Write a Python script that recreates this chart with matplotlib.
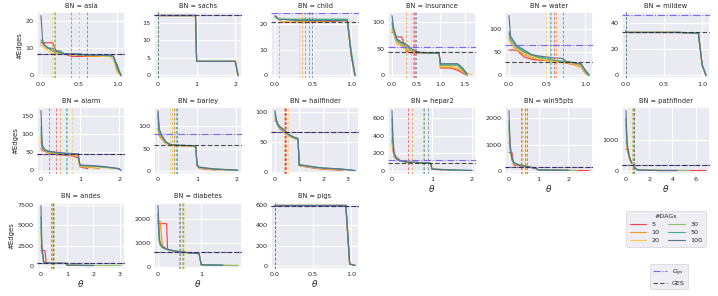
import numpy as np
import matplotlib
matplotlib.use('Agg')
import matplotlib.pyplot as plt
import seaborn as sns
from matplotlib.lines import Line2D

sns.set_theme(style='darkgrid')
plt.rcParams['font.family'] = ['DejaVu Sans']

N_DAGS = [5, 10, 20, 30, 50, 100]
COLORS = ['#F94144', '#F8961E', '#F9C74F', '#90BE6D', '#43AA8B', '#577590']

# ---------------- data (order of curve lists: 5, 10, 20, 30, 50, 100 DAGs) -------------
ASIA_T = [0, 0.02, 0.05, 0.1, 0.15, 0.2, 0.25, 0.3, 0.4, 0.5, 0.6, 0.7, 0.8, 0.9, 0.95, 1.0, 1.05]
ASIA_E = [
    [12, 12, 12, 12, 12, 9, 8, 8, 7, 7, 7, 7, 7, 7, 7, 3, 0],
    [11, 11, 10, 10, 9, 8, 8, 8, 7.5, 7.5, 7, 7, 7, 7, 7, 2, 0],
    [12, 11, 10, 9, 8, 8, 8, 8, 7.5, 7.5, 7.5, 7.5, 7, 7, 6, 1, 0],
    [12, 12, 11, 10, 9, 8.5, 8, 8, 8, 7.5, 7.5, 7.5, 7.5, 7, 7, 2, 0],
    [13, 12, 11, 10, 9, 9, 8.5, 8, 8, 7.5, 7.5, 7.5, 7.5, 7.5, 7, 4, 0],
    [22, 13, 11, 10, 10, 9, 9, 8, 8, 8, 7.5, 7.5, 7.5, 7.5, 7, 3, 0],
]
ASIA_V = [0.4, 0.5, 0.15, 0.17, 0.18, 0.6]
ASIA_REF = [8, 8]

SACHS_T = [0, 0.97, 1.0, 2.0, 2.07]
SACHS_E = [[17, 17, 4, 4, 0]] * 6
SACHS_V = [0, 0, 0, 0, 0, 0]
SACHS_REF = [17, 17]

CHILD_T = [0, 0.05, 0.1, 0.3, 0.5, 0.7, 0.9, 0.95, 1.0, 1.05]
CHILD_E = [
    [23, 22, 21, 21, 21, 21, 21.5, 21.5, 8, 0],
    [23, 22, 21, 21, 21, 21.5, 21.5, 21.5, 8, 0],
    [23, 22, 21, 21, 21.5, 21.5, 21.5, 21.5, 8, 0],
    [23, 22, 22, 22, 22, 22, 22, 22, 10, 0],
    [23, 22, 22, 22, 22, 22, 22, 22, 9, 0],
    [23.5, 22, 22, 21.5, 21.5, 21.5, 21.5, 21.5, 8, 0],
]
CHILD_V = [0.44, 0.35, 0.32, 0.056, 0.40, 0.48]
CHILD_REF = [24.5, 21]

INS_T = [0, 0.03, 0.1, 0.2, 0.3, 0.4, 0.5, 0.6, 0.8, 0.97, 1.0, 1.2, 1.35, 1.45, 1.55, 1.65]
INS_E = [
    [80, 80, 72, 72, 45, 42, 42, 42, 42, 42, 14, 14, 10, 5, 0, None],
    [85, 78, 60, 55, 48, 45, 43, 42, 42, 42, 15, 15, 12, 8, 0, None],
    [88, 80, 62, 57, 50, 46, 43, 42, 42, 42, 17, 17, 15, 10, 5, 1],
    [95, 82, 64, 58, 52, 47, 44, 42, 42, 42, 19, 19, 19, 10, 0, None],
    [100, 85, 66, 60, 56, 48, 44, 43, 42, 42, 20, 20, 20, 12, 1, None],
    [112, 90, 68, 62, 58, 50, 45, 43, 42, 42, 22, 22, 22, 15, 3, None],
]
INS_V = [0.45, 0.28, 0.40, 0.43, 0.47, 0.50]
INS_REF = [53, 44]

WATER_T = [0, 0.02, 0.1, 0.2, 0.3, 0.4, 0.5, 0.6, 0.7, 0.75, 0.85, 0.95, 1.0, 1.05]
WATER_E = [
    [55, 55, 55, 40, 35, 33, 32, 30, 29, 27, 24, 18, 5, 0],
    [80, 70, 55, 45, 38, 35, 32, 30, 29, 27, 24, 18, 5, 0],
    [85, 72, 58, 48, 40, 36, 33, 30, 29, 28, 26, 20, 6, 0],
    [90, 75, 60, 50, 43, 38, 35, 32, 30, 29, 27, 22, 8, 0],
    [95, 80, 62, 52, 45, 40, 37, 33, 31, 30, 28, 24, 10, 0],
    [130, 85, 65, 55, 45, 42, 40, 38, 37, 30, 28, 25, 12, 2],
]
WATER_V = [0.59, 0.62, 0.49, 0.55, 0.535, 0.71]
WATER_REF = [65, 30]

MILDEW_T = [0, 0.02, 0.7, 0.95, 1.0, 1.05]
MILDEW_E = [[34, 33, 33, 32.5, 8, 0]] * 6
MILDEW_V = [0, 0, 0, 0, 0, 0]
MILDEW_REF = [46, 33]

ALARM_T = [0, 0.03, 0.1, 0.2, 0.4, 0.6, 0.8, 0.95, 1.0, 1.2, 1.5, 1.8, 2.0, 2.05]
ALARM_E = [
    [60, 55, 52, 48, 44, 42, 40, 35, 10, 5, None, None, None, None],
    [80, 58, 53, 49, 46, 44, 42, 38, 10, 9, 5, None, None, None],
    [90, 60, 54, 50, 47, 45, 44, 40, 12, 11, 9, 6, None, None],
    [100, 62, 55, 51, 48, 46, 45, 44, 13, 12, 10, 7, 4, None],
    [120, 65, 55, 52, 49, 47, 46, 45, 14, 13, 11, 8, 5, 0],
    [165, 70, 57, 53, 50, 48, 47, 46, 15, 14, 12, 8, 5, 0],
]
ALARM_V = [0.38, 0.48, 0.80, 0.67, 0.63, 0.21]
ALARM_REF = [46, 46]

BARLEY_T = [0, 0.03, 0.1, 0.2, 0.3, 0.5, 0.9, 0.97, 1.0, 1.05, 1.2, 1.5, 2.0, 2.05]
BARLEY_E = [
    [95, 80, 72, 62, 58, 57, 56, 54, 12, 7, 5, 3, None, None],
    [105, 80, 72, 62, 58, 57, 56, 54, 12, 8, 6, 4, 2, None],
    [110, 85, 75, 62, 59, 57, 56, 54, 12, 8, 6, 4, 2, None],
    [120, 85, 76, 64, 60, 58, 57, 55, 13, 9, 7, 5, 3, 2],
    [130, 90, 80, 66, 60, 58, 57, 55, 14, 9, 7, 5, 3, 2],
    [135, 95, 78, 65, 60, 58, 57, 55, 15, 10, 8, 5, 3, 2],
]
BARLEY_V = [0.42, 0.41, 0.30, 0.36, 0.47, 0.49]
BARLEY_REF = [84, 58]

HAIL_T = [0, 0.05, 0.1, 0.2, 0.4, 0.6, 0.8, 0.95, 1.0, 1.3, 1.6, 2.0, 2.5, 2.8, 3.1, 3.3]
HAIL_E = [
    [85, 88, 78, 72, 66, 60, 56, 54, 10, 8, 6, 4, 3, 2, None, None],
    [88, 86, 80, 74, 66, 60, 56, 54, 10, 9, 7, 5, 4, 3, None, None],
    [90, 84, 80, 74, 66, 60, 56, 54, 10, 9, 7, 5, 4, 3, None, None],
    [95, 85, 80, 74, 67, 60, 57, 55, 11, 9, 7, 6, 5, 4, 3, None],
    [100, 86, 80, 75, 68, 61, 57, 55, 11, 10, 8, 6, 5, 4, 3, 2],
    [103, 88, 82, 76, 70, 62, 58, 56, 12, 10, 8, 6, 5, 4, 3, 2],
]
HAIL_V = [0.46, 0.37, 0.55, 0.40, 0.42, 0.41]
HAIL_REF = [67, 67]

HEPAR_T = [0, 0.02, 0.05, 0.1, 0.2, 0.4, 0.7, 0.9, 0.97, 1.0, 1.3, 1.6, 2.0]
HEPAR_E = [
    [350, 250, 160, 160, 120, 100, 95, 90, 85, 18, 12, None, None],
    [400, 280, 170, 150, 120, 100, 95, 90, 85, 20, 14, 8, None],
    [450, 300, 180, 135, 110, 100, 95, 90, 85, 20, 14, 8, None],
    [500, 320, 190, 140, 115, 100, 95, 90, 85, 20, 15, 10, None],
    [600, 350, 200, 140, 115, 100, 95, 90, 85, 20, 15, 10, 5],
    [690, 400, 220, 150, 120, 100, 95, 90, 85, 20, 15, 10, 5],
]
HEPAR_V = [0.41, 0.51, 0.79, 0.78, 0.81, 0.89]
HEPAR_REF = [120, 90]

WIN_T = [0, 0.02, 0.05, 0.1, 0.15, 0.2, 0.3, 0.5, 0.7, 0.9, 1.0, 1.5, 2.0, 2.3, 2.7]
WIN_E = [
    [700, 700, 700, 700, 250, 200, 200, 180, 150, 100, 40, 30, 25, 20, 20],
    [1100, 900, 700, 450, 300, 250, 220, 190, 150, 100, 40, 30, 25, None, None],
    [1500, 1100, 700, 400, 300, 260, 230, 190, 150, 100, 40, 30, 25, None, None],
    [1700, 1200, 750, 420, 320, 270, 230, 190, 150, 100, 40, 30, 25, 20, None],
    [1900, 1300, 800, 450, 330, 280, 240, 190, 150, 100, 40, 30, 25, None, None],
    [2300, 1500, 900, 500, 350, 300, 250, 200, 150, 100, 40, 30, 25, None, None],
]
WIN_V = [0.40, 0.45, 0.58, 0.53, 0.55, 0.62]
WIN_REF = [160, 160]

PATH_T = [0, 0.05, 0.1, 0.2, 0.3, 0.4, 0.6, 0.8, 1.0, 2.0, 3.0, 4.4, 5.5, 6.9]
PATH_E = [
    [700, 700, 700, 700, 400, 320, 200, 100, 30, 25, 20, 20, 20, 20],
    [1000, 900, 700, 550, 420, 320, 200, 100, 30, 25, 20, None, None, None],
    [1300, 1000, 750, 550, 420, 330, 200, 100, 30, 25, 20, None, None, None],
    [1500, 1100, 800, 560, 430, 330, 200, 100, 30, 25, 20, 20, 20, None],
    [1700, 1200, 850, 580, 440, 340, 200, 100, 30, 25, 20, 20, None, None],
    [1950, 1300, 900, 600, 450, 350, 200, 100, 30, 25, 20, 20, None, None],
]
PATH_V = [0.60, 0.48, 0.55, 0.65, 0.70, 0.72]
PATH_REF = [195, 195]

ANDES_T = [0, 0.03, 0.1, 0.15, 0.2, 0.5, 0.97, 1.0, 1.5, 2.0, 2.5, 3.05]
ANDES_E = [
    [1900, 1900, 1900, 1900, 400, 350, 330, 100, 90, None, None, None],
    [2500, 1900, 600, 450, 400, 350, 330, 100, 90, None, None, None],
    [4000, 1900, 500, 450, 400, 350, 330, 100, 90, 80, None, None],
    [5000, 2000, 500, 450, 400, 350, 330, 100, 90, 80, 80, 80],
    [6000, 2200, 500, 450, 400, 350, 330, 100, 90, 80, None, None],
    [7400, 2500, 500, 450, 400, 350, 330, 100, 90, 80, None, None],
]
ANDES_V = [0.38, 0.42, 0.45, 0.51, 0.47, 0.44]
ANDES_REF = [330, 330]

DIAB_T = [0, 0.03, 0.05, 0.1, 0.2, 0.22, 0.3, 0.5, 0.7, 0.95, 1.0, 1.3, 1.5, 1.85]
DIAB_E = [
    [1800, 1800, 1800, 1800, 1800, 750, 700, 630, 600, 560, 100, 90, None, None],
    [1900, 1900, 1900, 900, 750, 730, 690, 630, 600, 560, 100, 90, None, None],
    [1900, 1500, 1000, 850, 740, 730, 690, 630, 600, 560, 100, 90, 80, 70],
    [2000, 1000, 900, 800, 730, 720, 690, 640, 600, 560, 100, 90, 80, 70],
    [2200, 1100, 950, 820, 740, 730, 700, 640, 600, 560, 100, 90, 80, None],
    [2550, 1200, 1000, 850, 750, 740, 700, 640, 600, 560, 100, 90, 80, None],
]
DIAB_V = [0.58, 0.58, 0.60, 0.56, 0.49, 0.51]
DIAB_REF = [610, 610]

PIGS_T = [0, 0.93, 0.98, 1.05]
PIGS_E = [[592, 592, 20, 5]] * 6
PIGS_V = [0, 0, 0, 0, 0, 0]
PIGS_REF = [592, 592]

PANELS = [
    ('asia', ASIA_T, ASIA_E, ASIA_V, ASIA_REF, [0.0, 0.5, 1.0], [0, 10, 20]),
    ('sachs', SACHS_T, SACHS_E, SACHS_V, SACHS_REF, [0, 1, 2], [0, 5, 10, 15]),
    ('child', CHILD_T, CHILD_E, CHILD_V, CHILD_REF, [0.0, 0.5, 1.0], [0, 10, 20]),
    ('insurance', INS_T, INS_E, INS_V, INS_REF, [0.0, 0.5, 1.0, 1.5], [0, 50, 100]),
    ('water', WATER_T, WATER_E, WATER_V, WATER_REF, [0.0, 0.5, 1.0], [0, 50, 100]),
    ('mildew', MILDEW_T, MILDEW_E, MILDEW_V, MILDEW_REF, [0.0, 0.5, 1.0], [0, 20, 40]),
    ('alarm', ALARM_T, ALARM_E, ALARM_V, ALARM_REF, [0, 1, 2], [0, 50, 100, 150]),
    ('barley', BARLEY_T, BARLEY_E, BARLEY_V, BARLEY_REF, [0, 1, 2], [0, 50, 100]),
    ('hailfinder', HAIL_T, HAIL_E, HAIL_V, HAIL_REF, [0, 1, 2, 3], [0, 50, 100]),
    ('hepar2', HEPAR_T, HEPAR_E, HEPAR_V, HEPAR_REF, [0, 1, 2], [0, 200, 400, 600]),
    ('win95pts', WIN_T, WIN_E, WIN_V, WIN_REF, [0, 1, 2], [0, 1000, 2000]),
    ('pathfinder', PATH_T, PATH_E, PATH_V, PATH_REF, [0, 2, 4, 6], [0, 1000]),
    ('andes', ANDES_T, ANDES_E, ANDES_V, ANDES_REF, [0, 1, 2, 3], [0, 2500, 5000, 7500]),
    ('diabetes', DIAB_T, DIAB_E, DIAB_V, DIAB_REF, [0, 1], [0, 1000, 2000]),
    ('pigs', PIGS_T, PIGS_E, PIGS_V, PIGS_REF, [0.0, 0.5, 1.0], [0, 200, 400, 600]),
]
XLABEL_PANELS = {'hepar2', 'win95pts', 'pathfinder', 'andes', 'diabetes', 'pigs'}

# ---------------- figure ----------------
W, H = 718, 296
fig = plt.figure(figsize=(W / 100, H / 100), dpi=100)
AX_W, AX_H = 88, 66
LEFTS = [37 + 117 * i for i in range(6)]
TOPS = [12.5, 107.5, 202.5]

FS = 4.6
GGS_COLOR = '#7B68EE'

for idx, (name, T, E, V, REF, xt, yt) in enumerate(PANELS):
    r, c = divmod(idx, 6)
    l, t = LEFTS[c], TOPS[r]
    ax = fig.add_axes([l / W, 1 - (t + AX_H) / H, AX_W / W, AX_H / H])
    T = np.asarray(T, dtype=float)
    for k, n in enumerate(N_DAGS):
        y = np.asarray(E[k], dtype=float)
        ax.plot(T, y, color=COLORS[k], lw=0.85, zorder=2 + k * 0.01)
    for k, n in enumerate(N_DAGS):
        ax.axvline(V[k], color=COLORS[k], lw=0.65, ls=(0, (3, 2)), alpha=0.75, zorder=3)
    ax.axhline(REF[0], color=GGS_COLOR, lw=0.8, ls='-.', zorder=4)
    ax.axhline(REF[1], color='#222222', lw=0.8, ls=(0, (4, 2)), alpha=0.8, zorder=4)
    ax.set_xticks(xt)
    ax.set_yticks(yt)
    ax.tick_params(labelsize=FS, pad=2.5, length=0)
    ax.grid(True, color='white', lw=0.8)
    ax.set_title(f'BN = {name}', fontsize=FS + 0.2, pad=3)
    if c == 0:
        ax.set_ylabel('#Edges', fontsize=FS + 0.4, labelpad=2)
    if name in XLABEL_PANELS:
        ax.set_xlabel(r'$\theta$', fontsize=6.5, labelpad=1)

# legends
dag_handles = [Line2D([], [], color=COLORS[k], lw=0.8) for k in range(6)]
leg1 = fig.legend(dag_handles, [str(n) for n in N_DAGS], title='#DAGs', ncol=2,
                  loc='upper center', bbox_to_anchor=(666 / W, 1 - 208 / H),
                  fontsize=FS, title_fontsize=FS, frameon=True, handlelength=2.6,
                  columnspacing=1.4, labelspacing=0.4, borderpad=0.5, handletextpad=0.8)
leg1.get_frame().set_edgecolor('#cccccc')
leg1.get_frame().set_linewidth(0.5)
ref_handles = [Line2D([], [], color=GGS_COLOR, lw=0.8, ls='-.'),
               Line2D([], [], color='#222222', lw=0.8, ls=(0, (4, 2)), alpha=0.8)]
leg2 = fig.legend(ref_handles, [r'$G_{gs}$', 'GES'], loc='upper center',
                  bbox_to_anchor=(669 / W, 1 - 261 / H), fontsize=FS, frameon=True,
                  handlelength=2.2, labelspacing=0.5, borderpad=0.5, handletextpad=0.7)
leg2.get_frame().set_edgecolor('#cccccc')
leg2.get_frame().set_linewidth(0.5)

fig.savefig('out.png', dpi=100)
